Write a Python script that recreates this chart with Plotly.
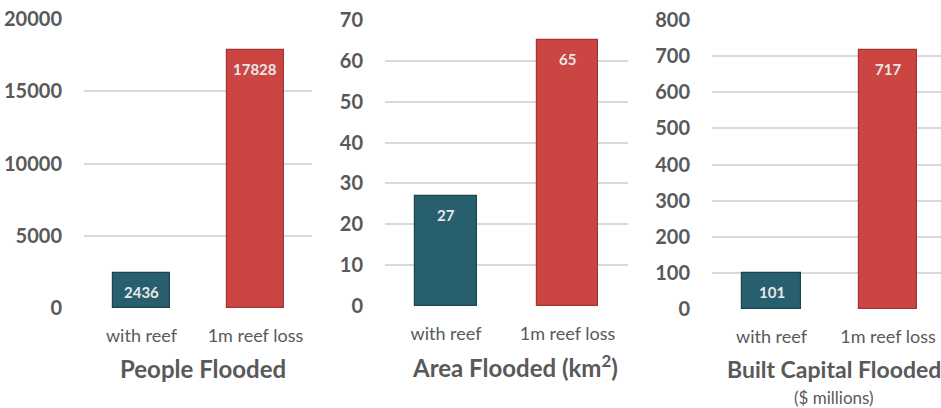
import plotly.graph_objects as go

categories = ["with reef", "1m reef loss"]
people_flooded = [2436, 17828]
area_flooded = [27, 65]
capital_flooded = [101, 717]
panel_titles = ["People Flooded", "Area Flooded (km<sup>2</sup>)", "Built Capital Flooded"]
panel_subtitle = "($ millions)"
y_ranges = [[0, 20000], [0, 70], [0, 800]]
y_dtick = [5000, 10, 100]

W, H = 941, 408
GRAY = "#595959"
TEAL = "#275F6E"
RED = "#CB4542"
FONT = "Lato"

# pixel geometry of each panel: (x0, x1, y_zero_px, y_top_px, x_range, bar_width)
panels = [
    (84, 312, 308, 19, [-0.504, 1.496], 0.50),
    (385, 628, 306, 20, [-0.502, 1.498], 0.51),
    (712, 941, 309, 20, [-0.511, 1.455], 0.506),
]
series = [people_flooded, area_flooded, capital_flooded]

fig = go.Figure()
annotations = []
for i, (vals, (x0, x1, yb, yt, xr, bw)) in enumerate(zip(series, panels)):
    n = "" if i == 0 else str(i + 1)
    fig.add_trace(go.Bar(
        x=categories, y=vals, xaxis="x" + n, yaxis="y" + n,
        marker=dict(color=[TEAL, RED],
                    line=dict(color=["#1B4450", "#A33533"], width=1.2)),
        width=bw, showlegend=False, hoverinfo="x+y", cliponaxis=False,
    ))
    xa = dict(domain=[x0 / W, x1 / W], range=xr, anchor="y" + n, automargin=False,
              showgrid=False, zeroline=False, showline=False,
              ticks="outside", ticklen=11, tickcolor="rgba(0,0,0,0)",
              tickfont=dict(family=FONT, size=18, color=GRAY), fixedrange=True)
    ya = dict(domain=[1 - yb / H, 1 - yt / H], range=y_ranges[i], dtick=y_dtick[i],
              tickformat="d", automargin=False,
              anchor="x" + n, showgrid=True, gridcolor="#D9D9D9", gridwidth=1.5,
              zeroline=False, showline=False,
              ticks="outside", ticklen=17, tickcolor="rgba(0,0,0,0)",
              tickfont=dict(family=FONT, size=20, color=GRAY, weight="bold"),
              fixedrange=True)
    fig.update_layout(**{"xaxis" + n: xa, "yaxis" + n: ya})
    for c, v in zip(categories, vals):
        annotations.append(dict(
            x=c, y=v, xref="x" + n, yref="y" + n, text=str(v), showarrow=False,
            yanchor="middle", yshift=-19,
            font=dict(family=FONT, size=15, color="#E8E8E8", weight="bold")))

title_centers = [203, 515, 834]
title_y = [368, 366, 369]
title_sizes = [24, 24, 23]
for t, cx, cy, sz in zip(panel_titles, title_centers, title_y, title_sizes):
    annotations.append(dict(
        x=cx / W, y=1 - cy / H, xref="paper", yref="paper", text=t,
        showarrow=False, xanchor="center", yanchor="middle",
        font=dict(family=FONT, size=sz, color=GRAY, weight="bold")))
annotations.append(dict(
    x=834 / W, y=1 - 397 / H, xref="paper", yref="paper", text=panel_subtitle,
    showarrow=False, xanchor="center", yanchor="middle",
    font=dict(family=FONT, size=17, color=GRAY)))

fig.update_layout(
    template="none",
    width=W, height=H, margin=dict(l=0, r=0, t=0, b=0, autoexpand=False),
    paper_bgcolor="white", plot_bgcolor="white",
    annotations=annotations, bargap=0,
)
fig.write_html(
    "out.html",
    config={"displayModeBar": False},
    post_script="document.body.style.margin='0px';document.body.style.overflow='hidden';",
)
